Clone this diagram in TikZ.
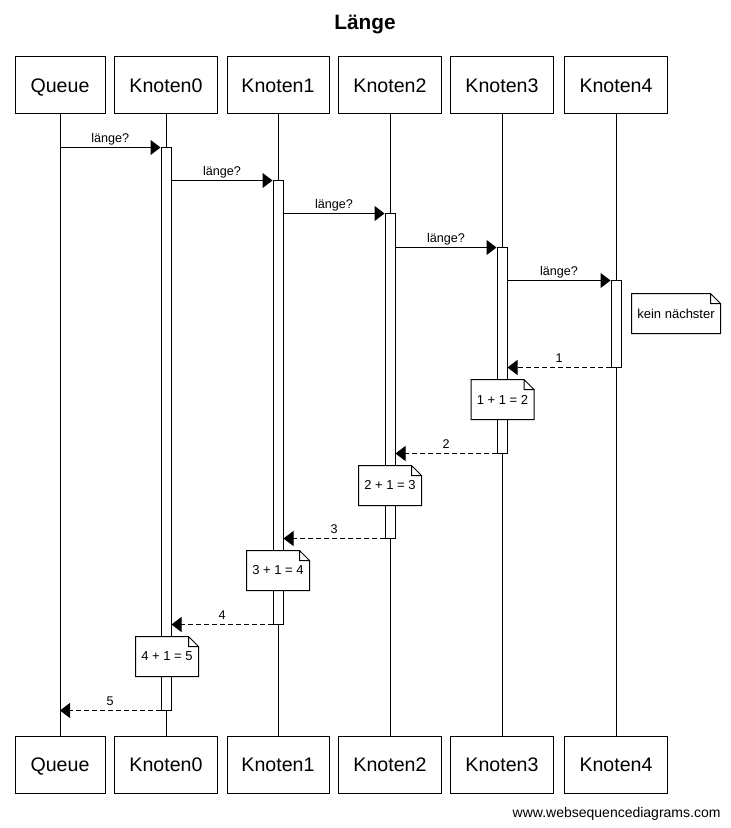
\documentclass[tikz,border=0pt]{standalone}
\usepackage{fontspec}
\setmainfont{Liberation Sans}
\usetikzlibrary{arrows.meta}

% note box with folded corner
\newcommand{\notefold}[1]{%
  \draw (#1.north west) -- ([xshift=-5pt]#1.north east) -- ([yshift=-5pt]#1.north east)
        -- (#1.south east) -- (#1.south west) -- cycle
        ([xshift=-5pt]#1.north east) |- ([yshift=-5pt]#1.north east);}

\begin{document}
\begin{tikzpicture}[x=0.5pt, y=-0.5pt, line width=0.5pt,
    part/.style={draw, minimum height=28.5pt, inner sep=0pt, text height=7.5pt, text depth=0.5pt,
                 font=\fontsize{9.8}{12}\selectfont},
    act/.style={draw, fill=white, minimum width=5pt, inner sep=0pt},
    note/.style={fill=white, minimum width=31pt, minimum height=19.5pt, inner sep=0pt,
                 font=\fontsize{6.5}{8}\selectfont},
    lbl/.style={inner sep=1pt, text height=4.6pt, text depth=1.3pt, font=\fontsize{6.3}{7}\selectfont},
    call/.style={-{Triangle[length=5pt,width=7.5pt]}},
    ret/.style={call, dash pattern=on 2.5pt off 1.5pt}]
    \useasboundingbox (0,0) rectangle (730,828);

    % Titel
    \node[font=\bfseries\fontsize{10.4}{12}\selectfont] (titel) at (365,25) {Länge};

    % Teilnehmer und Lebenslinien
    \foreach \n/\t/\x/\w in {q/Queue/60/45, k0/Knoten0/166/51.5, k1/Knoten1/278/51,
                             k2/Knoten2/390/51.5, k3/Knoten3/502/51.5, k4/Knoten4/616/51.5} {
        \node[part, minimum width=\w pt] (\n-top) at (\x,85.5) {\t};
        \node[part, minimum width=\w pt] (\n-bot) at (\x,764.5) {\t};
        \draw (\n-top) -- (\n-bot);
    }

    % Aktivierungen
    \foreach \n/\x/\t/\b in {a0/166/148/710, a1/278/181/624, a2/390/214/538,
                             a3/502/248/453, a4/616/281/367} {
        \node[act, minimum height={0.5pt*(\b-\t)}] (\n) at (\x,{(\t+\b)/2}) {};
    }

    % Aufrufe
    \draw[call] (q-top |- a0.north) -- (a0.north west) node[lbl, midway, above] {länge?};
    \draw[call] (a0.east |- a1.north) -- (a1.north west) node[lbl, midway, above] {länge?};
    \draw[call] (a1.east |- a2.north) -- (a2.north west) node[lbl, midway, above] {länge?};
    \draw[call] (a2.east |- a3.north) -- (a3.north west) node[lbl, midway, above] {länge?};
    \draw[call] (a3.east |- a4.north) -- (a4.north west) node[lbl, midway, above] {länge?};

    % Antworten
    \draw[ret] (a4.south west) -- (a3.east |- a4.south) node[lbl, midway, above] {1};
    \draw[ret] (a3.south west) -- (a2.east |- a3.south) node[lbl, midway, above] {2};
    \draw[ret] (a2.south west) -- (a1.east |- a2.south) node[lbl, midway, above] {3};
    \draw[ret] (a1.south west) -- (a0.east |- a1.south) node[lbl, midway, above] {4};
    \draw[ret] (a0.south west) -- (q-top |- a0.south) node[lbl, midway, above] {5};

    % Notizen
    \node[note, minimum width=44pt] (n4) at (676,313.5) {kein nächster};
    \node[note] (n3) at (502.5,399.5) {1 + 1 = 2};
    \node[note] (n2) at (390,485.5) {2 + 1 = 3};
    \node[note] (n1) at (278,570.5) {3 + 1 = 4};
    \node[note] (n0) at (167,656.5) {4 + 1 = 5};
    \foreach \m in {n4,n3,n2,n1,n0} { \notefold{\m} }

    \node[anchor=east, inner sep=0pt, font=\fontsize{7}{8}\selectfont] (web) at (721,814)
        {www.websequencediagrams.com};
\end{tikzpicture}
\end{document}
